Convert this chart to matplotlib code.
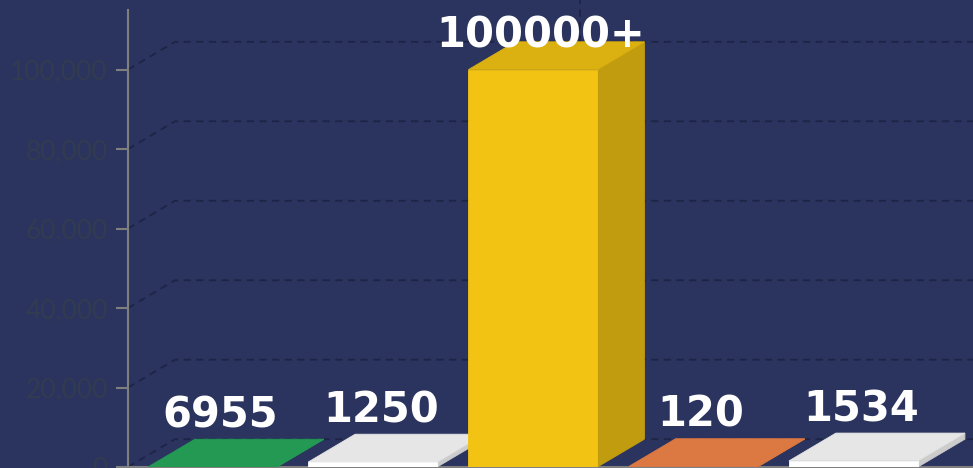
import matplotlib.pyplot as plt
from matplotlib.patches import Polygon
import matplotlib.colors as mcolors
import numpy as np

# Data
labels = ['6955', '1250', '100000+', '120', '1534']
heights = [0, 1250, 100000, 120, 1534]   # bar heights as drawn
colors = ['#27aa5d', '#ffffff', '#f3c313', '#f48549', '#ffffff']
yticks = [0, 20000, 40000, 60000, 80000, 100000]

bg = '#2b345e'
grid_color = '#1d2446'

fig = plt.figure(figsize=(9.73, 4.68), dpi=100)
fig.patch.set_facecolor(bg)
ax = fig.add_axes([128 / 973, 1 / 468, 845 / 973, 457 / 468])
ax.set_facecolor(bg)
ax.set_xlim(-0.527, 4.746)
ax.set_ylim(0, 115000)

# 3D depth offsets (data units)
dx = 0.293
dy = 7000
width = 0.805


def shade(c, f):
    r, g, b = mcolors.to_rgb(c)
    return (r * f, g * f, b * f)


# Gridlines on floor/back wall
x0 = ax.get_xlim()[0]
x1 = ax.get_xlim()[1]
for t in yticks:
    ax.plot([x0, x0 + dx, x1], [t, t + dy, t + dy], color=grid_color,
            lw=1.3, ls=(0, (4, 3)), zorder=1, clip_on=False)
ax.plot([2 + dx, 2 + dx], [100000 + dy, 120000], color=grid_color,
        lw=1.3, ls=(0, (4, 3)), zorder=1, clip_on=False)

# 3D bars
for i, (h, c) in enumerate(zip(heights, colors)):
    l = i - width / 2
    r = i + width / 2
    faces = [
        ([(r, 0), (r + dx, dy), (r + dx, h + dy), (r, h)], shade(c, 0.8)),
        ([(l, h), (r, h), (r + dx, h + dy), (l + dx, h + dy)], shade(c, 0.9)),
        ([(l, 0), (r, 0), (r, h), (l, h)], c),
    ]
    for pts, fc in faces:
        ax.add_patch(Polygon(pts, closed=True, facecolor=fc, edgecolor=fc,
                             lw=0.6, zorder=3))
    ty = min(h + 13000, 108500)
    ax.text(i + 0.05, ty, labels[i], ha='center', va='center', color='white',
            fontsize=30, fontweight='bold', family='DejaVu Sans', zorder=5)

# Axis styling
ax.set_yticks(yticks)
ax.set_yticklabels([f'{t:,}' for t in yticks])
ax.set_xticks([])
ax.tick_params(axis='y', length=8.5, width=1.5, color='#7f7f7f', pad=6,
               labelsize=19, labelcolor='#333b50')
for lab in ax.get_yticklabels():
    lab.set_family('Lato')
for s in ['top', 'right']:
    ax.spines[s].set_visible(False)
ax.spines['left'].set_color('#7f7f7f')
ax.spines['left'].set_linewidth(1.5)
ax.spines['bottom'].set_color('#7f7f7f')
ax.spines['bottom'].set_linewidth(1.5)

plt.savefig('out.png', dpi=100, facecolor=bg)
